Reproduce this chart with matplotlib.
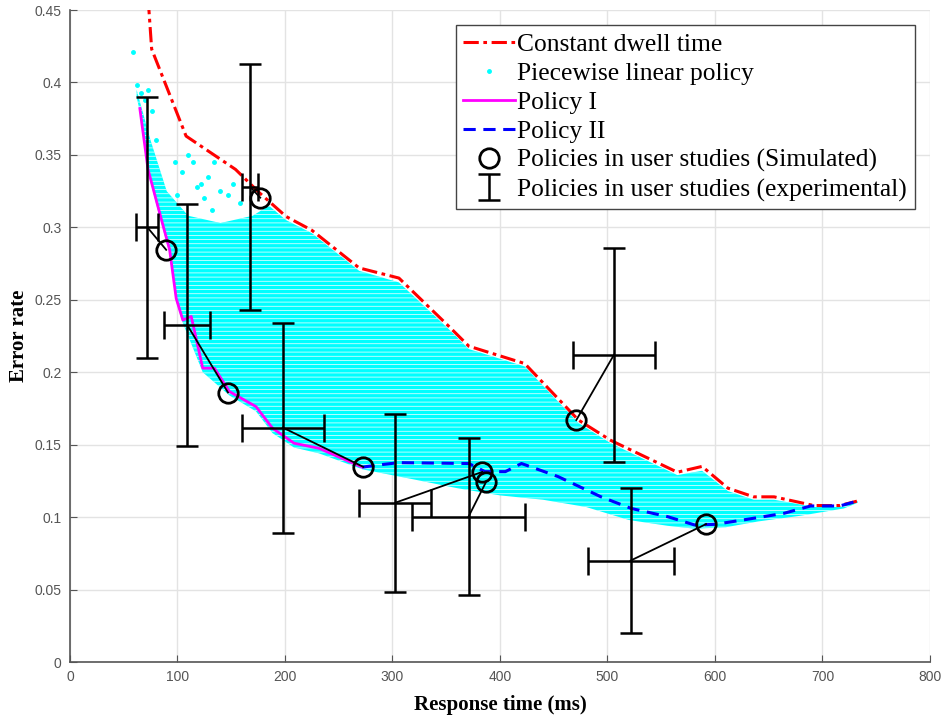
import numpy as np
import matplotlib
matplotlib.use('Agg')
from matplotlib import pyplot as plt

# constant dwell time curve (red dash-dot)
const_x = [72.5, 76, 108, 154, 176, 201, 225, 269, 306, 352, 371, 423, 473, 503, 565, 588, 612, 636, 655, 692, 716, 732]
const_y = [0.46, 0.423, 0.363, 0.340, 0.324, 0.3075, 0.298, 0.272, 0.265, 0.232, 0.218, 0.206, 0.167, 0.153,
           0.131, 0.135, 0.120, 0.114, 0.114, 0.108, 0.108, 0.111]

# policy I (magenta)
p1_x = [65, 72.6, 83.4, 92.7, 98.8, 105, 112.8, 123.5, 134.4, 148.3, 173, 188.4, 208.5, 231.7, 271.8]
p1_y = [0.382, 0.340, 0.310, 0.2845, 0.251, 0.236, 0.2385, 0.2028, 0.2028, 0.1867, 0.1763, 0.1614, 0.151, 0.1475, 0.1345]

# policy II (blue dashed)
p2_x = [272, 287, 306, 371, 386, 405, 420, 454, 494, 522, 556, 581, 600, 630, 664, 689, 716, 732]
p2_y = [0.1345, 0.136, 0.1376, 0.137, 0.1314, 0.1314, 0.137, 0.128, 0.114, 0.106, 0.1003, 0.0946, 0.095,
        0.0985, 0.1026, 0.1077, 0.1077, 0.111]

# piecewise linear policy cloud: upper and lower edge of the dense region
cloud_up_x = [62, 75, 90, 110, 140, 170, 185, 201, 225, 269, 306, 352, 371, 423, 473, 503, 565, 588, 612, 636, 655, 692, 716, 733]
cloud_up_y = [0.395, 0.36, 0.325, 0.308, 0.303, 0.308, 0.315, 0.305, 0.296, 0.27, 0.262, 0.23, 0.216, 0.204, 0.165, 0.151,
              0.129, 0.132, 0.118, 0.112, 0.112, 0.107, 0.107, 0.111]
cloud_lo_x = [62, 65, 72.6, 83.4, 92.7, 98.8, 105, 123.5, 148.3, 173, 188.4, 208.5, 231.7, 272, 320, 360, 400, 440,
              480, 520, 556, 581, 610, 640, 680, 720, 733]
cloud_lo_y = [0.39, 0.38, 0.338, 0.307, 0.282, 0.249, 0.234, 0.2, 0.184, 0.173, 0.158, 0.148, 0.144, 0.133, 0.126,
              0.12, 0.115, 0.112, 0.107, 0.098, 0.094, 0.092, 0.093, 0.097, 0.101, 0.106, 0.110]
# sparse points of the cloud outside the dense region
sparse_x = [59, 62, 66, 70, 73, 76, 80, 98, 104, 110, 114, 118, 122, 128, 134, 140, 147, 152, 158, 125, 132, 100]
sparse_y = [0.421, 0.398, 0.393, 0.388, 0.395, 0.38, 0.36, 0.345, 0.338, 0.35, 0.345, 0.328, 0.33, 0.335, 0.345,
            0.325, 0.322, 0.33, 0.317, 0.32, 0.312, 0.322]

# policies in user studies, simulated
sim_x = [89.5, 177, 147, 272.8, 383.5, 387, 471, 591.7]
sim_y = [0.2845, 0.3205, 0.186, 0.1347, 0.1312, 0.1242, 0.167, 0.0952]

# policies in user studies, experimental (same order)
exp_x = [72, 167.8, 109, 198, 302.8, 370.8, 506, 521.5]
exp_y = [0.300, 0.3278, 0.2327, 0.1618, 0.110, 0.1004, 0.212, 0.070]
exp_xerr = [10.2, 7.4, 21.6, 38, 33.5, 52.4, 38, 40]
exp_yerr = [0.0903, 0.0847, 0.0835, 0.0725, 0.0615, 0.054, 0.0737, 0.050]

yticks = [0, 0.05, 0.1, 0.15, 0.2, 0.25, 0.3, 0.35, 0.4, 0.45]
ytick_labels = ['0', '0.05', '0.1', '0.15', '0.2', '0.25', '0.3', '0.35', '0.4', '0.45']
xticks = [0, 100, 200, 300, 400, 500, 600, 700, 800]

plt.rcParams['hatch.linewidth'] = 0.5

fig = plt.figure(figsize=(9.43, 7.17), dpi=100)
ax = fig.add_axes([0.0742, 0.0767, 0.912, 0.9093])

ax.fill(np.r_[cloud_up_x, cloud_lo_x[::-1]], np.r_[cloud_up_y, cloud_lo_y[::-1]],
        facecolor='cyan', edgecolor='white', hatch='----', linewidth=0, zorder=2)
h_cloud, = ax.plot(sparse_x, sparse_y, '.', color='cyan', markersize=5, zorder=2)

h_const, = ax.plot(const_x, const_y, color='red', linestyle=(0, (5, 1.5, 1.2, 1.5)), linewidth=2.2, zorder=3)
h_p1, = ax.plot(p1_x, p1_y, color='magenta', linewidth=2, zorder=3)
h_p2, = ax.plot(p2_x, p2_y, color='blue', linestyle=(0, (4, 2.5)), linewidth=2.2, zorder=3)

# lines joining simulated and experimental results
for i in range(len(sim_x)):
    ax.plot([sim_x[i], exp_x[i]], [sim_y[i], exp_y[i]], color='black', linewidth=1.3, zorder=4)

h_sim, = ax.plot(sim_x, sim_y, 'o', markersize=14, markerfacecolor='none', markeredgecolor='black',
                 markeredgewidth=2, zorder=5)
ax.errorbar(exp_x, exp_y, xerr=exp_xerr, fmt='none', ecolor='black', elinewidth=1.8, capsize=10,
            capthick=1.8, zorder=5)
h_exp = ax.errorbar(exp_x, exp_y, yerr=exp_yerr, fmt='none', ecolor='black', elinewidth=1.8, capsize=8,
                    capthick=1.8, zorder=5)

ax.set_xlim(0, 800)
ax.set_ylim(0, 0.45)
ax.set_xticks(xticks)
ax.set_yticks(yticks)
ax.set_yticklabels(ytick_labels)
ax.grid(True, color='#e3e3e3', linewidth=1)
ax.set_axisbelow(True)
for s in ['top', 'right']:
    ax.spines[s].set_visible(False)
for s in ['left', 'bottom']:
    ax.spines[s].set_color('#555555')
    ax.spines[s].set_linewidth(1.2)
ax.tick_params(direction='in', length=5, colors='#555555', labelsize=10, pad=6)
for lab in ax.get_xticklabels() + ax.get_yticklabels():
    lab.set_family(['Liberation Sans Narrow', 'Liberation Sans', 'DejaVu Sans'])

ax.set_xlabel('Response time (ms)', family='Liberation Serif', fontweight='bold', fontsize=15, labelpad=8)
ax.set_ylabel('Error rate', family='Liberation Serif', fontweight='bold', fontsize=15, labelpad=4)

leg = ax.legend([h_const, h_cloud, h_p1, h_p2, h_sim, h_exp],
                ['Constant dwell time', 'Piecewise linear policy', 'Policy I', 'Policy II',
                 'Policies in user studies (Simulated)', 'Policies in user studies (experimental)'],
                loc='upper right', bbox_to_anchor=(0.982, 0.977), prop={'family': 'Liberation Serif', 'size': 18.4},
                fancybox=False, framealpha=1, edgecolor='#444444', handlelength=2.0, handletextpad=0.1,
                labelspacing=0.24, borderpad=0.3, borderaxespad=0)
leg.get_frame().set_linewidth(1.0)

fig.savefig('out.png', dpi=100)
